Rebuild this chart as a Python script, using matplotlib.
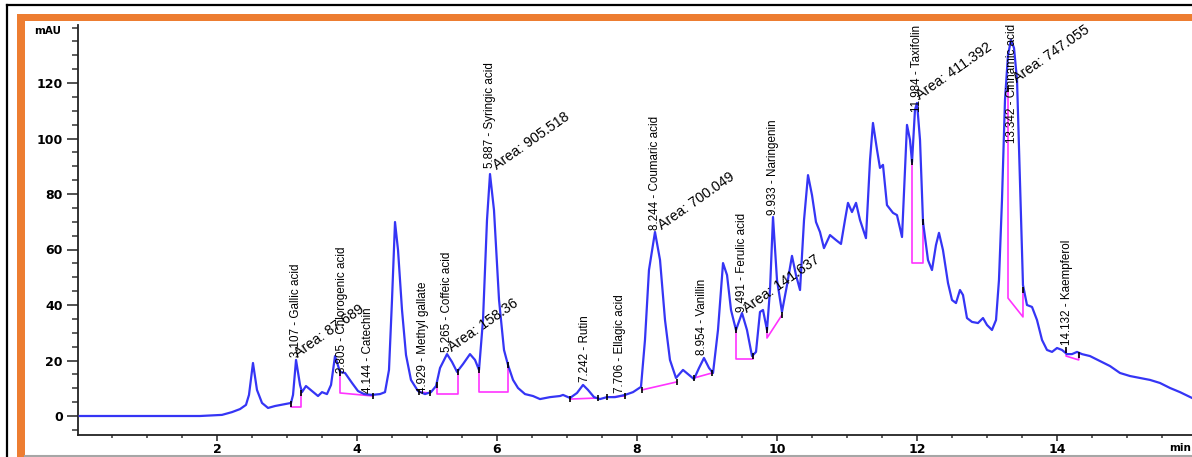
import matplotlib
matplotlib.use("Agg")
import matplotlib.pyplot as plt
from matplotlib import font_manager
from matplotlib.lines import Line2D
from matplotlib.patches import Rectangle
from matplotlib.ticker import MultipleLocator, FixedLocator

# ---------------- data ----------------
time_min = [0.04, 1.04, 1.757, 2.071, 2.214, 2.329, 2.414, 2.457, 2.514, 2.571, 2.643, 2.729, 2.829,
            2.971, 3.057, 3.086, 3.129, 3.186, 3.214, 3.271, 3.357, 3.443, 3.5, 3.571, 3.629, 3.686,
            3.757, 3.829, 3.929, 4.014, 4.1, 4.214, 4.329, 4.4, 4.457, 4.5, 4.543, 4.586, 4.643, 4.7,
            4.771, 4.871, 4.971, 5.057, 5.129, 5.186, 5.286, 5.357, 5.429, 5.514, 5.614, 5.686, 5.743,
            5.8, 5.857, 5.9, 5.957, 6.029, 6.1, 6.157, 6.229, 6.3, 6.4, 6.514, 6.614, 6.757, 6.9, 6.943,
            7.043, 7.143, 7.229, 7.3, 7.386, 7.471, 7.571, 7.686, 7.829, 7.943, 8.057, 8.114, 8.171,
            8.257, 8.329, 8.4, 8.471, 8.557, 8.657, 8.743, 8.814, 8.886, 8.957, 9.029, 9.086, 9.157,
            9.229, 9.286, 9.343, 9.414, 9.5, 9.571, 9.643, 9.7, 9.757, 9.8, 9.857, 9.9, 9.943, 10.0,
            10.071, 10.143, 10.214, 10.271, 10.329, 10.386, 10.443, 10.5, 10.557, 10.614, 10.671,
            10.757, 10.843, 10.914, 10.971, 11.014, 11.071, 11.129, 11.186, 11.271, 11.329, 11.371,
            11.429, 11.471, 11.514, 11.571, 11.657, 11.714, 11.786, 11.829, 11.857, 11.9, 11.929,
            11.971, 12.0, 12.043, 12.086, 12.157, 12.214, 12.271, 12.314, 12.371, 12.443, 12.5,
            12.557, 12.614, 12.657, 12.714, 12.786, 12.871, 12.943, 13.0, 13.071, 13.129, 13.171,
            13.214, 13.257, 13.3, 13.343, 13.386, 13.429, 13.471, 13.514, 13.571, 13.643, 13.714,
            13.786, 13.857, 13.929, 14.0, 14.071, 14.143, 14.214, 14.286, 14.357, 14.471, 14.614,
            14.757, 14.9, 15.043, 15.186, 15.329, 15.471, 15.614, 15.757, 15.929]
absorbance_mAU = [0, 0, 0, 0.4, 1.4, 2.5, 4.0, 7.6, 19.1, 9.4, 4.7, 2.9, 3.6,
                  4.3, 4.7, 7.6, 20.2, 11.2, 8.6, 10.8, 9.0, 7.2, 8.6, 7.9, 11.2, 21.6,
                  15.9, 15.5, 11.9, 9.0, 7.9, 7.6, 7.9, 8.6, 16.6, 41.8, 69.9, 59.8, 38.2, 22.0,
                  13.0, 9.0, 7.9, 8.6, 10.8, 17.3, 22.3, 19.5, 15.9, 18.7, 22.3, 20.2, 16.6,
                  34.6, 70.6, 87.2, 74.2, 41.8, 23.8, 18.4, 13.0, 10.1, 7.9, 7.2, 6.1, 6.8, 7.2, 7.6,
                  6.5, 8.3, 11.2, 9.4, 6.8, 6.1, 6.8, 6.8, 7.6, 8.6, 10.5, 27.4, 52.6,
                  66.3, 56.2, 34.6, 20.2, 13.7, 16.6, 14.8, 13.3, 17.3, 20.9, 17.3, 15.5, 31.0,
                  55.1, 50.8, 38.2, 31.0, 37.1, 31.0, 21.6, 23.1, 37.5, 38.2, 31.0, 45.4, 71.7, 49.0,
                  37.5, 47.2, 57.7, 50.8, 45.4, 70.6, 86.8, 79.6, 69.9, 66.3, 60.5,
                  65.2, 63.4, 62.0, 70.6, 76.8, 73.5, 76.8, 70.6, 64.1, 92.3, 105.6,
                  95.9, 89.4, 90.5, 76.0, 73.2, 72.4, 64.5, 88.6, 104.9, 99.5, 91.5,
                  110.3, 112.8, 99.5, 69.9, 56.2, 52.6, 61.6, 66.0, 59.8, 47.9, 41.8,
                  40.7, 45.4, 43.6, 35.3, 33.9, 33.5, 35.3, 32.8, 31.0, 34.6, 49.0,
                  77.8, 113.9, 130.1, 135.5, 132.6, 121.1, 85.0, 47.2, 40.0, 39.3, 34.6,
                  27.4, 23.8, 23.1, 24.5, 23.8, 22.3, 22.3, 23.1, 22.3, 21.6, 19.8,
                  18.0, 15.5, 14.4, 13.7, 13.0, 11.9, 10.1, 8.6, 6.5]

# integration baselines (time, mAU) per peak
baselines = [
    [(3.06, 4.3), (3.06, 3.1), (3.20, 3.1), (3.20, 8.3)],
    [(3.757, 15.5), (3.757, 8.3), (4.23, 7.2)],
    [(4.886, 8.6), (5.043, 8.3)],
    [(5.143, 11.2), (5.143, 7.9), (5.443, 7.9), (5.443, 15.9)],
    [(5.743, 16.6), (5.743, 8.6), (6.157, 8.6), (6.157, 18.4)],
    [(7.043, 6.1), (7.443, 6.5)],
    [(7.571, 6.8), (7.829, 7.2)],
    [(8.071, 9.4), (8.571, 12.3)],
    [(8.814, 13.7), (9.071, 15.5)],
    [(9.414, 31.0), (9.414, 20.5), (9.657, 20.5), (9.657, 21.6)],
    [(9.857, 31.0), (9.857, 28.1), (10.071, 36.4)],
    [(11.929, 91.5), (11.929, 55.1), (12.086, 55.1), (12.086, 69.9)],
    [(13.30, 118.0), (13.30, 42.5), (13.514, 35.7), (13.514, 45.4)],
    [(14.13, 23.8), (14.13, 21.6), (14.31, 20.2), (14.31, 22.0)],
]

peak_rt = ["3.107", "3.805", "4.144", "4.929", "5.265", "5.887", "7.242", "7.706",
           "8.244", "8.954", "9.491", "9.933", "11.984", "13.342", "14.132"]
peak_names = ["Gallic acid", "Chlorogenic acid", "Catechin", "Methyl gallate", "Coffeic acid",
              "Syringic acid", "Rutin", "Ellagic acid", "Coumaric acid", "Vanillin", "Ferulic acid",
              "Naringenin", "Taxifolin", "Cinnamic acid", "Kaempferol"]
label_x = [3.129, 3.786, 4.157, 4.943, 5.286, 5.9, 7.257, 7.757, 8.257, 8.929, 9.5, 9.943,
           12.0, 13.357, 14.143]
label_y = [21.3, 15.5, 8.3, 8.3, 23.1, 89.4, 12.3, 8.3, 67.0, 22.0, 37.5, 72.4, 109.5, 98.4, 25.6]

area_values = ["87.689", "158.36", "905.518", "700.049", "141.637", "411.392", "747.055"]
area_x = [3.157, 5.357, 6.0, 8.357, 9.571, 12.043, 13.429]
area_y = [20.9, 23.1, 88.6, 67.0, 37.1, 113.9, 120.0]

y_ticks = [0, 20, 40, 60, 80, 100, 120]
x_ticks = [2, 4, 6, 8, 10, 12, 14]

# ---------------- figure ----------------
W, H = 1192, 457
fig = plt.figure(figsize=(W / 100, H / 100), dpi=100)
fig.patch.set_facecolor("white")

def fx(px):
    return px / W

def fy(py):
    return 1 - py / H

# page decorations (frame of the source document)
fig.add_artist(Line2D([fx(7), 1.0], [fy(4.5), fy(4.5)], color="black", lw=1.6, transform=fig.transFigure))
fig.add_artist(Line2D([fx(7), fx(7)], [fy(4.5), 0], color="black", lw=1.6, transform=fig.transFigure))
fig.add_artist(Rectangle((fx(17), 0), fx(25) - fx(17), fy(14) - 0, color="#ED7D31",
                         transform=fig.transFigure, lw=0))
fig.add_artist(Rectangle((fx(17), fy(21)), 1 - fx(17), fy(14) - fy(21), color="#ED7D31",
                         transform=fig.transFigure, lw=0))
fig.add_artist(Line2D([fx(25), 1.0], [fy(455.5), fy(455.5)], color="#a6a6a6", lw=1.5,
                      transform=fig.transFigure))

ax = fig.add_axes([fx(78), fy(435), 1 - fx(78), fy(25) - fy(435)])
ax.set_facecolor("none")
x0 = 2 + (78 - 217) / 70
x1 = 2 + (1192 - 217) / 70
ax.set_xlim(x0, x1)
ax.set_ylim((416 - 435) / 2.775, (416 - 25) / 2.775)

for s in ["top", "right"]:
    ax.spines[s].set_visible(False)
for s in ["left", "bottom"]:
    ax.spines[s].set_color("#222222")
    ax.spines[s].set_linewidth(1.3)

ax.yaxis.set_major_locator(FixedLocator(y_ticks))
ax.yaxis.set_minor_locator(MultipleLocator(5))
ax.xaxis.set_major_locator(FixedLocator(x_ticks))
ax.xaxis.set_minor_locator(MultipleLocator(0.5))
ax.tick_params(axis="y", which="major", length=8, width=1.2, color="#333333", pad=3,
               labelsize=9)
ax.tick_params(axis="y", which="minor", length=4, width=1.1, color="#333333")
ax.tick_params(axis="x", which="major", length=4.5, width=1.2, color="#333333", pad=1.5,
               labelsize=9)
ax.tick_params(axis="x", which="minor", length=2.5, width=1.1, color="#333333")
for lab in ax.get_xticklabels() + ax.get_yticklabels():
    lab.set_fontweight("bold")
    lab.set_family("DejaVu Sans")

# chromatogram
ax.plot(time_min, absorbance_mAU, color="#3535f5", lw=1.6, solid_joinstyle="round", zorder=3)

# baselines and markers
for bl in baselines:
    xs = [p[0] for p in bl]
    ys = [p[1] for p in bl]
    ax.plot(xs, ys, color="#ff33ff", lw=1.2, zorder=2)
    ax.plot([xs[0], xs[-1]], [ys[0], ys[-1]], ls="none", marker="|", ms=5, mew=1.2,
            color="black", zorder=4)

# labels
names = {f.name for f in font_manager.fontManager.ttflist}
if "Liberation Sans Narrow" in names:
    LFONT, LSIZE = "Liberation Sans Narrow", 10.0
else:
    LFONT, LSIZE = "Liberation Sans", 8.4

for rt, nm, x, y in zip(peak_rt, peak_names, label_x, label_y):
    ax.text(x, y, f"{rt} - {nm}", rotation=90, ha="center", va="bottom",
            fontsize=LSIZE, family=LFONT, color="black", zorder=5)

for val, x, y in zip(area_values, area_x, area_y):
    ax.text(x, y, f"Area: {val}", rotation=35, rotation_mode="anchor", ha="left",
            va="baseline", fontsize=10.3, family="Liberation Sans", color="black", zorder=5)

fig.text(fx(48), fy(31), "mAU", ha="center", va="center", fontsize=7.5, fontweight="bold",
         family="DejaVu Sans")
fig.text(fx(1191), fy(448), "min", ha="right", va="center", fontsize=7.5, fontweight="bold",
         family="DejaVu Sans")

fig.savefig("out.png", dpi=100)
